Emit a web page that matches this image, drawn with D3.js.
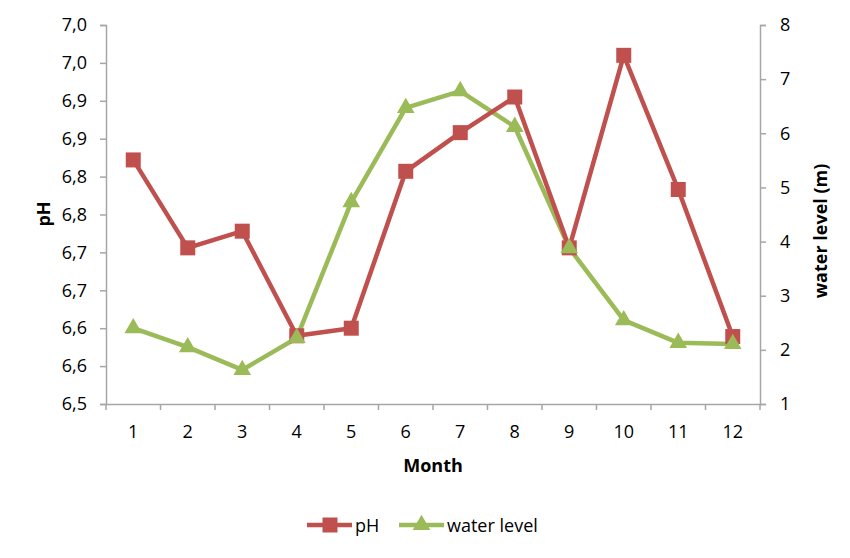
<!DOCTYPE html>
<html>
<head>
<meta charset="utf-8">
<script src="https://cdn.jsdelivr.net/npm/d3@7"></script>
<style>
  body { margin: 0; background: #fff; }
  text { font-family: "Open Sans", "Noto Sans", sans-serif; fill: #000; }
</style>
</head>
<body>
<svg id="mainsvg" width="850" height="558"></svg>
<script>
// chart data
let months = ["1", "2", "3", "4", "5", "6", "7", "8", "9", "10", "11", "12"];
let phValues = [6.822, 6.706, 6.728, 6.590, 6.600, 6.807, 6.858, 6.905, 6.706, 6.960, 6.783, 6.589];
let waterValues = [2.40, 2.05, 1.63, 2.22, 4.73, 6.47, 6.78, 6.12, 3.88, 2.55, 2.13, 2.11];
let phTicks = [6.5, 6.55, 6.6, 6.65, 6.7, 6.75, 6.8, 6.85, 6.9, 6.95, 7.0];
let waterTicks = [1, 2, 3, 4, 5, 6, 7, 8];

let RED = "#C0504D";
let GREEN = "#9BBB59";
let AXIS = "#A6A6A6";
let FS = 18;

let svg = d3.select("#mainsvg");
let plotLeft = 106, plotRight = 760, plotTop = 25, plotBottom = 404;

let x = d3.scaleBand().domain(months).range([plotLeft, plotRight]);
let yPh = d3.scaleLinear().domain([6.5, 7.0]).range([plotBottom, plotTop]);
let yWater = d3.scaleLinear().domain([1, 8]).range([plotBottom, plotTop]);

// Excel-style: one decimal, comma separator
let fmtPh = d => d3.format(".1f")(d + 1e-9).replace(".", ",");

// left axis
let gl = svg.append("g").attr("transform", `translate(${plotLeft},0)`)
    .call(d3.axisLeft(yPh).tickValues(phTicks).tickFormat(fmtPh).tickSizeOuter(0).tickSize(6).tickPadding(13));
// right axis
let gr = svg.append("g").attr("transform", `translate(${plotRight},0)`)
    .call(d3.axisRight(yWater).tickValues(waterTicks).tickFormat(d3.format("d")).tickSizeOuter(0).tickSize(6).tickPadding(14));
// bottom axis: ticks at band boundaries
let gb = svg.append("g").attr("transform", `translate(0,${plotBottom})`)
    .call(d3.axisBottom(x).tickSize(0).tickPadding(21));
gb.selectAll(".tick").append("line")
    .attr("x1", -x.bandwidth() / 2).attr("x2", -x.bandwidth() / 2)
    .attr("y1", 0).attr("y2", 6);
gb.append("line").attr("x1", plotRight).attr("x2", plotRight).attr("y1", 0).attr("y2", 6);

for (let g of [gl, gr, gb]) {
    g.select(".domain").attr("stroke", AXIS).attr("stroke-width", 1.5);
    g.selectAll("line").attr("stroke", AXIS).attr("stroke-width", 1.5);
    g.selectAll("text").attr("font-size", FS).attr("fill", "#000")
        .style("font-family", "'Open Sans', 'Noto Sans', sans-serif");
}

// axis titles
svg.append("text").attr("transform", "translate(50,214) rotate(-90)")
    .attr("text-anchor", "middle").attr("font-size", FS).attr("font-weight", "bold").text("pH");
svg.append("text").attr("transform", "translate(827,231) rotate(-90)")
    .attr("text-anchor", "middle").attr("font-size", FS).attr("font-weight", "bold").text("water level (m)");
svg.append("text").attr("x", 433).attr("y", 472)
    .attr("text-anchor", "middle").attr("font-size", FS).attr("font-weight", "bold").text("Month");

let cx = (d, i) => x(months[i]) + x.bandwidth() / 2;

// water level series
let waterLine = d3.line().x((d, i) => cx(d, i)).y(d => yWater(d));
svg.append("path").datum(waterValues).attr("d", waterLine)
    .attr("fill", "none").attr("stroke", GREEN).attr("stroke-width", 4.5).attr("stroke-linejoin", "round");

// pH series
let phLine = d3.line().x((d, i) => cx(d, i)).y(d => yPh(d));
svg.append("path").datum(phValues).attr("d", phLine)
    .attr("fill", "none").attr("stroke", RED).attr("stroke-width", 4.5).attr("stroke-linejoin", "round");
svg.selectAll(".ph-pt").data(phValues).enter().append("rect")
    .attr("class", "ph-pt")
    .attr("x", (d, i) => cx(d, i) - 7.5).attr("y", d => yPh(d) - 7.5)
    .attr("width", 15).attr("height", 15).attr("fill", RED);

let tri = d3.symbol().type(d3.symbolTriangle).size(135);
svg.selectAll(".w-pt").data(waterValues).enter().append("path")
    .attr("class", "w-pt")
    .attr("transform", (d, i) => `translate(${cx(d, i)},${yWater(d)})`)
    .attr("d", tri).attr("fill", GREEN);

// legend
let lg = svg.append("g").attr("transform", "translate(0,525)");
lg.append("line").attr("x1", 307).attr("x2", 352).attr("stroke", RED).attr("stroke-width", 4.5);
lg.append("rect").attr("x", 322.5).attr("y", -7.5).attr("width", 15).attr("height", 15).attr("fill", RED);
lg.append("text").attr("x", 355).attr("y", 6.5).attr("font-size", FS).text("pH");
lg.append("line").attr("x1", 399).attr("x2", 444).attr("stroke", GREEN).attr("stroke-width", 4.5);
lg.append("path").attr("transform", "translate(421.5,0)").attr("d", tri).attr("fill", GREEN);
lg.append("text").attr("x", 447).attr("y", 6.5).attr("font-size", FS).text("water level");
</script>
</body>
</html>
